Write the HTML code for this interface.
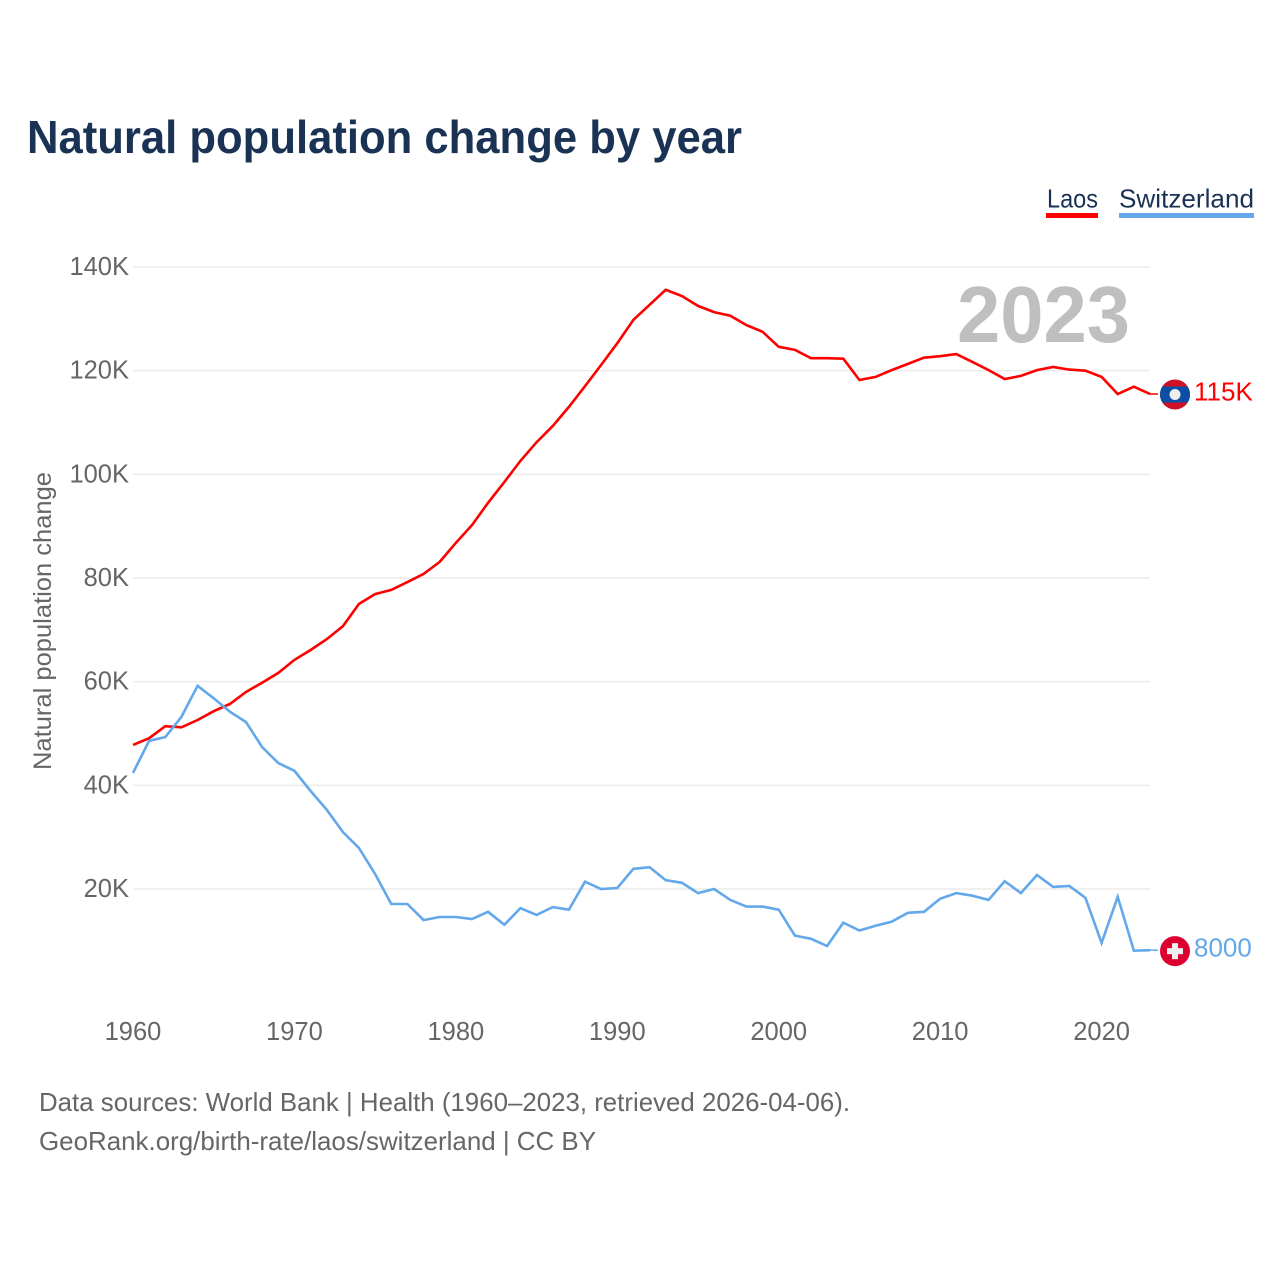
<!DOCTYPE html>
<html lang="en">
<head>
<meta charset="utf-8">
<title>Natural population change by year</title>
<style>
html,body{margin:0;padding:0;background:#fff;width:1280px;height:1280px;overflow:hidden}
svg{display:block;font-family:"Liberation Sans",sans-serif}
</style>
</head>
<body>
<svg id="chart" width="1280" height="1280" viewBox="0 0 1280 1280" xmlns="http://www.w3.org/2000/svg">
  <text x="27" y="153" font-size="46" font-weight="700" fill="#1a3254" textLength="715" lengthAdjust="spacingAndGlyphs">Natural population change by year</text>

  <g>
    <g>
      <text x="1047" y="207.5" font-size="26" fill="#1a3254" textLength="51" lengthAdjust="spacingAndGlyphs">Laos</text>
      <rect x="1046" y="213" width="52" height="5" fill="#ff0000"/>
    </g>
    <g>
      <text x="1119" y="207.5" font-size="26" fill="#1a3254" textLength="135" lengthAdjust="spacingAndGlyphs">Switzerland</text>
      <rect x="1119" y="213" width="135" height="5" fill="#62a8ea"/>
    </g>
  </g>

  <g id="grid"></g>
  <g id="yticks"></g>
  <g id="xticks"></g>

  <text transform="translate(51,770) rotate(-90)" x="0" y="0" font-size="25" fill="#666666" textLength="298" lengthAdjust="spacingAndGlyphs">Natural population change</text>

  <text x="957" y="342" font-size="80" font-weight="700" fill="#bfbfbf" textLength="173" lengthAdjust="spacingAndGlyphs">2023</text>

  <g id="series"></g>

  <g id="flag-laos">
    <clipPath id="clip-laos"><circle cx="0" cy="0" r="15"/></clipPath>
    <g clip-path="url(#clip-laos)">
      <rect x="-15" y="-15" width="30" height="30" fill="#ce1126"/>
      <rect x="-15" y="-8" width="30" height="16" fill="#0a4ea6"/>
      <circle cx="0" cy="0" r="5.5" fill="#eeeeee"/>
    </g>
  </g>
  <g id="flag-swiss">
    <circle cx="0" cy="0" r="15" fill="#dc0030"/>
    <rect x="-8" y="-3" width="16" height="6" fill="#eeeeee"/>
    <rect x="-3" y="-8" width="6" height="16" fill="#eeeeee"/>
  </g>
  <text id="label-laos" x="1194" font-size="26" fill="#ff0000"></text>
  <text id="label-swiss" x="1194" font-size="26" fill="#62a8ea"></text>

  <text x="39" y="1111" font-size="26" fill="#666666" textLength="811" lengthAdjust="spacingAndGlyphs">Data sources: World Bank | Health (1960–2023, retrieved 2026-04-06).</text>
  <text x="39" y="1150" font-size="26" fill="#666666" textLength="557" lengthAdjust="spacingAndGlyphs">GeoRank.org/birth-rate/laos/switzerland | CC BY</text>
</svg>
<script>
const startYear = 1960;
const yTickValues = [20, 40, 60, 80, 100, 120, 140];
const yTickLabels = ['20K', '40K', '60K', '80K', '100K', '120K', '140K'];
const xTickYears = [1960, 1970, 1980, 1990, 2000, 2010, 2020];
const xTickLabels = ['1960', '1970', '1980', '1990', '2000', '2010', '2020'];
const laosValues = [47.8,49.1,51.4,51.2,52.6,54.3,55.7,58,59.8,61.7,64.2,66.1,68.2,70.7,75,76.9,77.7,79.2,80.8,83.1,86.8,90.2,94.5,98.5,102.6,106.2,109.3,113,117,121.1,125.3,129.8,132.7,135.6,134.4,132.5,131.3,130.6,128.8,127.5,124.6,124,122.4,122.4,122.3,118.2,118.8,120.1,121.3,122.5,122.8,123.2,121.7,120.1,118.4,119,120.1,120.7,120.2,120,118.8,115.5,116.9,115.5];
const switzerlandValues = [42.4,48.6,49.3,53.2,59.2,56.8,54.2,52.2,47.4,44.3,42.8,38.9,35.3,31,27.9,22.9,17.1,17.1,14,14.6,14.6,14.2,15.6,13.1,16.3,15,16.5,16,21.4,20,20.2,23.9,24.2,21.7,21.2,19.2,20,17.9,16.6,16.6,16,11,10.4,9,13.5,12,12.9,13.7,15.4,15.6,18.1,19.2,18.7,17.9,21.5,19.2,22.7,20.4,20.6,18.3,9.6,18.5,8.1,8.2];
const laosEndLabel = '115K';
const switzerlandEndLabel = '8000';

const NS = 'http://www.w3.org/2000/svg';
const xScale = year => 133 + (year - 1960) * (1150 - 133) / 63;
const yScale = value => 889 - (value - 20) * (889 - 267) / 120;

function make(tag, parentId) {
  const el = document.createElementNS(NS, tag);
  document.getElementById(parentId).appendChild(el);
  return el;
}

yTickValues.forEach((v, i) => {
  const line = make('line', 'grid');
  
  
  line.setAttribute('x1', xScale(1960));
  line.setAttribute('x2', xScale(2023));
  line.setAttribute('y1', yScale(v));
  line.setAttribute('y2', yScale(v));
  line.setAttribute('stroke', '#ebebeb');
  line.setAttribute('stroke-width', '1.5');

  const t = make('text', 'yticks');
  
  
  t.setAttribute('x', 129);
  t.setAttribute('y', yScale(v) + 8);
  t.setAttribute('text-anchor', 'end');
  t.setAttribute('font-size', '25.5');
  t.setAttribute('fill', '#666666');
  t.textContent = yTickLabels[i];
});

xTickYears.forEach((yr, i) => {
  const t = make('text', 'xticks');
  
  
  t.setAttribute('x', xScale(yr));
  t.setAttribute('y', 1040);
  t.setAttribute('text-anchor', 'middle');
  t.setAttribute('font-size', '25.5');
  t.setAttribute('fill', '#666666');
  t.textContent = xTickLabels[i];
});

function linePoints(values) {
  return values.map((v, i) => xScale(startYear + i).toFixed(1) + ',' + yScale(v).toFixed(1)).join(' ');
}

const laosLine = make('polyline', 'series');


laosLine.setAttribute('points', linePoints(laosValues));
laosLine.setAttribute('fill', 'none');
laosLine.setAttribute('stroke', '#ff0000');
laosLine.setAttribute('stroke-width', '2.6');

const swissLine = make('polyline', 'series');


swissLine.setAttribute('points', linePoints(switzerlandValues));
swissLine.setAttribute('fill', 'none');
swissLine.setAttribute('stroke', '#62a8ea');
swissLine.setAttribute('stroke-width', '2.6');

const laosY = yScale(laosValues[laosValues.length - 1]);
const swissY = yScale(switzerlandValues[switzerlandValues.length - 1]);

const laosStub = make('line', 'series');


laosStub.setAttribute('x1', xScale(2023));
laosStub.setAttribute('x2', xScale(2023) + 8);
laosStub.setAttribute('y1', laosY);
laosStub.setAttribute('y2', laosY);
laosStub.setAttribute('stroke', '#ff0000');
laosStub.setAttribute('stroke-width', '1.5');

const swissStub = make('line', 'series');


swissStub.setAttribute('x1', xScale(2023));
swissStub.setAttribute('x2', xScale(2023) + 8);
swissStub.setAttribute('y1', swissY);
swissStub.setAttribute('y2', swissY);
swissStub.setAttribute('stroke', '#62a8ea');
swissStub.setAttribute('stroke-width', '1.5');

document.getElementById('flag-laos').setAttribute('transform', 'translate(1175,' + (laosY + 0.5) + ')');
document.getElementById('flag-swiss').setAttribute('transform', 'translate(1175,' + (swissY + 1) + ')');

const laosLabel = document.getElementById('label-laos');
laosLabel.setAttribute('y', laosY + 6.5);
laosLabel.textContent = laosEndLabel;
const swissLabel = document.getElementById('label-swiss');
swissLabel.setAttribute('y', swissY + 6.5);
swissLabel.textContent = switzerlandEndLabel;
</script>
</body>
</html>
